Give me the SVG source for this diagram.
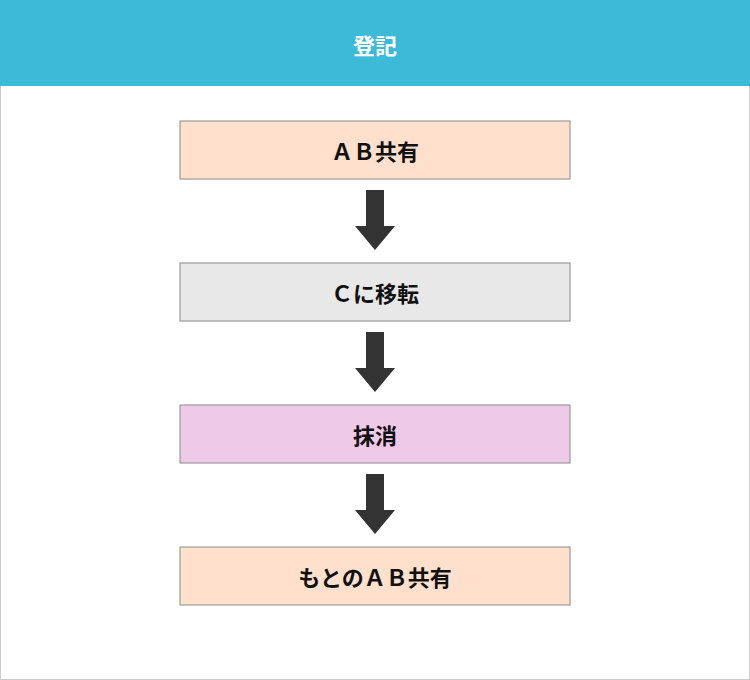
<svg xmlns="http://www.w3.org/2000/svg" width="750" height="680" viewBox="0 0 750 680">
<style>
.box{stroke:#8a8a8a;stroke-width:1}
.t{font-family:"Noto Sans CJK JP","Noto Sans",sans-serif;font-weight:bold;font-size:22px;fill:#111;text-anchor:middle;dominant-baseline:central}
.arr{fill:#333}
</style>
<rect x="0.5" y="0.5" width="749" height="679" fill="#fff" stroke="#ccc"/>
<g id="header"><rect x="0" y="0" width="750" height="86" fill="#3EBAD9"/>
<text class="t" x="375" y="44" style="fill:#fff">登記</text></g>
<g id="n1"><rect class="box" x="180" y="121" width="390" height="58" fill="#FFE0CC"/><text class="t" x="375" y="150">ＡＢ共有</text></g>
<g id="n2"><rect class="box" x="180" y="263" width="390" height="58" fill="#E8E8E8"/><text class="t" x="375" y="292">Ｃに移転</text></g>
<g id="n3"><rect class="box" x="180" y="405" width="390" height="58" fill="#EFC9E8"/><text class="t" x="375" y="434">抹消</text></g>
<g id="n4"><rect class="box" x="180" y="547" width="390" height="58" fill="#FFE0CC"/><text class="t" x="375" y="576">もとのＡＢ共有</text></g>
<g id="connectors">
<polygon class="arr" points="366,190 384,190 384,226 395,226 375,250 355,226 366,226"/>
<polygon class="arr" points="366,332 384,332 384,368 395,368 375,392 355,368 366,368"/>
<polygon class="arr" points="366,474 384,474 384,510 395,510 375,534 355,510 366,510"/>
</g>
</svg>
